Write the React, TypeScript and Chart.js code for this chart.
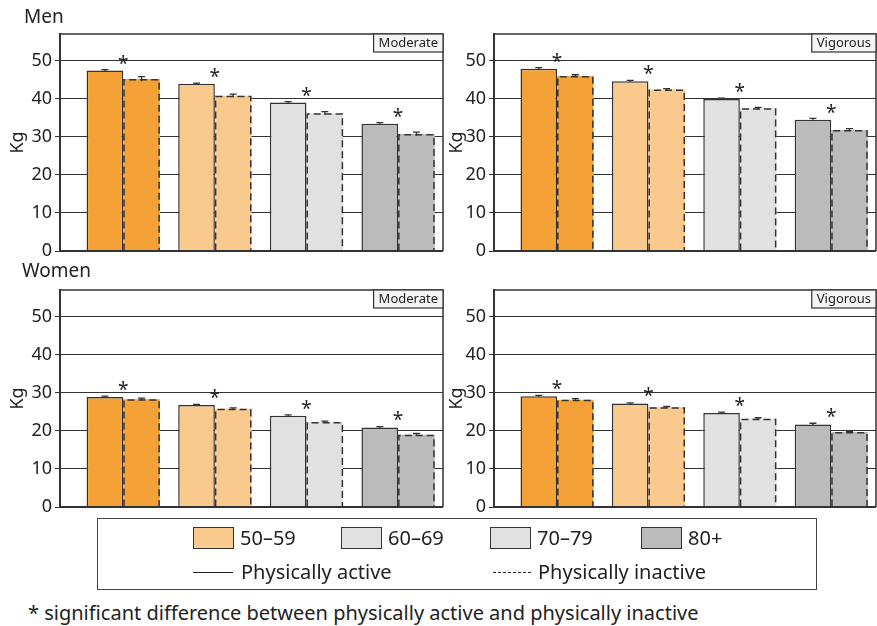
import React, { useEffect, useRef } from 'react';
import { Chart, registerables } from 'chart.js';

Chart.register(...registerables);

const FONT = "'Noto Sans', 'DejaVu Sans', sans-serif";

// Four age groups (bar pairs) per panel, left to right
const groupPositions = [1, 2, 3, 4];
const groupColors = ['#F4A137', '#F9C98D', '#E1E1E1', '#BBBBBB'];

// Y axis ticks
const yTicks = [0, 10, 20, 30, 40, 50];
const yMax = 57;

// Men – moderate
const menModActive = [47.4, 43.9, 39.0, 33.4];
const menModInactive = [45.2, 40.8, 36.2, 30.7];
const menModActiveErr = [0.25, 0.2, 0.25, 0.3];
const menModInactiveErr = [0.6, 0.4, 0.4, 0.5];
// Men – vigorous
const menVigActive = [47.9, 44.6, 39.9, 34.5];
const menVigInactive = [46.0, 42.4, 37.5, 31.8];
const menVigActiveErr = [0.25, 0.2, 0.25, 0.35];
const menVigInactiveErr = [0.3, 0.25, 0.25, 0.35];
// Women – moderate
const womenModActive = [28.9, 26.8, 24.0, 20.9];
const womenModInactive = [28.3, 25.8, 22.3, 19.0];
const womenModActiveErr = [0.2, 0.15, 0.2, 0.2];
const womenModInactiveErr = [0.3, 0.25, 0.25, 0.3];
// Women – vigorous
const womenVigActive = [29.1, 27.2, 24.7, 21.7];
const womenVigInactive = [28.2, 26.2, 23.2, 19.7];
const womenVigActiveErr = [0.2, 0.15, 0.2, 0.3];
const womenVigInactiveErr = [0.25, 0.2, 0.25, 0.2];

// Legend entries
const legendAges = ['50–59', '60–69', '70–79', '80+'];
const legendColors = ['#F9C98D', '#E1E1E1', '#E1E1E1', '#BBBBBB'];
const legendX = [193, 341, 490, 641];

type PanelProps = {
  left: number;
  top: number;
  width: number;
  height: number;
  yWidth: number;
  padTop: number;
  padBottom: number;
  padRight: number;
  active: number[];
  inactive: number[];
  errA: number[];
  errI: number[];
  tag: string;
};

function Panel(p: PanelProps) {
  const ref = useRef<HTMLCanvasElement>(null);
  useEffect(() => {
    if (!ref.current) return;
    const decor = {
      id: 'decor',
      afterDatasetsDraw(chart: any) {
        const { ctx, chartArea: ca } = chart;
        const ys = chart.scales.y;
        const mA = chart.getDatasetMeta(0);
        const mI = chart.getDatasetMeta(1);
        ctx.save();
        ctx.strokeStyle = '#333';
        // dashed outlines for inactive bars
        mI.data.forEach((bar: any) => {
          const b = bar.getProps(['x', 'y', 'base', 'width'], true);
          const l = b.x - b.width / 2;
          const r = b.x + b.width / 2;
          ctx.setLineDash([7, 4]);
          ctx.lineWidth = 1.5;
          ctx.beginPath();
          ctx.moveTo(l + 0.75, b.base);
          ctx.lineTo(l + 0.75, b.y + 0.75);
          ctx.lineTo(r - 0.75, b.y + 0.75);
          ctx.lineTo(r - 0.75, b.base);
          ctx.stroke();
        });
        ctx.setLineDash([]);
        // error bars
        const drawErr = (meta: any, vals: number[], errs: number[]) => {
          meta.data.forEach((bar: any, i: number) => {
            const x = bar.x;
            const yt = ys.getPixelForValue(vals[i] + errs[i]);
            const yb = ys.getPixelForValue(vals[i] - errs[i]);
            ctx.lineWidth = 1.3;
            ctx.beginPath();
            ctx.moveTo(x, yt);
            ctx.lineTo(x, yb);
            ctx.moveTo(x - 3.5, yt);
            ctx.lineTo(x + 3.5, yt);
            ctx.stroke();
          });
        };
        drawErr(mA, p.active, p.errA);
        drawErr(mI, p.inactive, p.errI);
        // asterisks
        ctx.fillStyle = '#222';
        ctx.font = `19px ${FONT}`;
        ctx.textAlign = 'center';
        ctx.textBaseline = 'alphabetic';
        mA.data.forEach((bar: any) => {
          const cx = bar.x + bar.width / 2;
          ctx.fillText('*', cx, bar.y - 1);
        });
        // frame
        ctx.lineWidth = 1.5;
        ctx.beginPath();
        ctx.moveTo(ca.left, ca.top);
        ctx.lineTo(ca.right, ca.top);
        ctx.lineTo(ca.right, ca.bottom);
        ctx.stroke();
        ctx.lineWidth = 2;
        ctx.beginPath();
        ctx.moveTo(ca.left, ca.top);
        ctx.lineTo(ca.left, ca.bottom);
        ctx.lineTo(ca.right, ca.bottom);
        ctx.stroke();
        // tag box
        ctx.font = `13px ${FONT}`;
        const tw = ctx.measureText(p.tag).width;
        const bw = tw + 10;
        const bh = 18;
        ctx.fillStyle = '#F4F4F4';
        ctx.fillRect(ca.right - bw, ca.top, bw, bh);
        ctx.lineWidth = 1.2;
        ctx.strokeRect(ca.right - bw, ca.top, bw, bh);
        ctx.fillStyle = '#222';
        ctx.textAlign = 'center';
        ctx.textBaseline = 'middle';
        ctx.fillText(p.tag, ca.right - bw / 2, ca.top + bh / 2 + 0.5);
        ctx.restore();
      },
    };
    const chart = new Chart(ref.current, {
      type: 'bar',
      data: {
        datasets: [
          {
            label: 'Physically active',
            data: p.active.map((v, i) => ({ x: groupPositions[i], y: v })),
            backgroundColor: groupColors,
            borderColor: '#333',
            borderWidth: 1.5,
            borderSkipped: 'bottom',
          },
          {
            label: 'Physically inactive',
            data: p.inactive.map((v, i) => ({ x: groupPositions[i], y: v })),
            backgroundColor: groupColors,
            borderWidth: 0,
          },
        ],
      } as any,
      options: {
        responsive: false,
        animation: false,
        layout: { padding: { left: 0, top: p.padTop, right: p.padRight, bottom: p.padBottom } },
        plugins: { legend: { display: false }, tooltip: { enabled: false } },
        datasets: { bar: { categoryPercentage: 0.8, barPercentage: 1.0 } } as any,
        scales: {
          x: {
            type: 'linear',
            min: 0.31,
            max: 4.49,
            display: false,
            offset: false,
            afterBuildTicks: (s: any) => {
              s.ticks = groupPositions.map((v) => ({ value: v }));
            },
          } as any,
          y: {
            min: 0,
            max: yMax,
            afterFit: (s: any) => {
              s.width = p.yWidth;
              s.paddingTop = 0;
              s.paddingBottom = 0;
            },
            afterBuildTicks: (s: any) => {
              s.ticks = yTicks.map((v) => ({ value: v }));
            },
            ticks: {
              stepSize: 10,
              includeBounds: false,
              font: { family: FONT, size: 18 },
              color: '#222',
              padding: 3,
            },
            grid: {
              color: '#333',
              lineWidth: 1,
              drawTicks: true,
              tickLength: 5,
              tickColor: '#333',
            },
            border: { display: true, color: '#333', width: 2 },
            title: {
              display: true,
              text: 'Kg',
              font: { family: FONT, size: 18 },
              color: '#222',
              padding: { top: 7, bottom: 0 },
            },
          } as any,
        },
      } as any,
      plugins: [decor],
    });
    return () => chart.destroy();
  }, []);
  return (
    <canvas
      ref={ref}
      width={p.width}
      height={p.height}
      style={{ position: 'absolute', left: p.left, top: p.top, width: p.width, height: p.height }}
    />
  );
}

const txt: React.CSSProperties = {
  position: 'absolute',
  fontFamily: FONT,
  color: '#222',
  whiteSpace: 'nowrap',
};

export default function App() {
  const H = 244;
  return (
    <div style={{ position: 'absolute', left: 0, top: 0, width: 877, height: 626, background: '#fff', overflow: 'hidden' }}>
      <Panel left={0} top={22} width={445} height={H} yWidth={60} padTop={12} padBottom={15} padRight={2}
        active={menModActive} inactive={menModInactive} errA={menModActiveErr} errI={menModInactiveErr} tag="Moderate" />
      <Panel left={439} top={22} width={438} height={H} yWidth={55} padTop={12} padBottom={15} padRight={1}
        active={menVigActive} inactive={menVigInactive} errA={menVigActiveErr} errI={menVigInactiveErr} tag="Vigorous" />
      <Panel left={0} top={278} width={445} height={H} yWidth={60} padTop={12} padBottom={15} padRight={2}
        active={womenModActive} inactive={womenModInactive} errA={womenModActiveErr} errI={womenModInactiveErr} tag="Moderate" />
      <Panel left={439} top={278} width={438} height={H} yWidth={55} padTop={12} padBottom={15} padRight={1}
        active={womenVigActive} inactive={womenVigInactive} errA={womenVigActiveErr} errI={womenVigInactiveErr} tag="Vigorous" />

      <div style={{ ...txt, left: 24, top: 3, fontSize: 19, lineHeight: '26px' }}>Men</div>
      <div style={{ ...txt, left: 22, top: 257, fontSize: 19, lineHeight: '26px' }}>Women</div>

      <div style={{ position: 'absolute', left: 97, top: 518, width: 720, height: 72, border: '1.5px solid #444', boxSizing: 'border-box' }} />
      {legendAges.map((a, i) => (
        <React.Fragment key={a}>
          <div style={{ position: 'absolute', left: legendX[i], top: 527, width: 41, height: 22, background: legendColors[i], border: '1px solid #333', boxSizing: 'border-box' }} />
          <div style={{ ...txt, left: legendX[i] + 47, top: 526, fontSize: 20, lineHeight: '24px' }}>{a}</div>
        </React.Fragment>
      ))}
      <div style={{ position: 'absolute', left: 193, top: 572, width: 40, height: 0, borderTop: '1px solid #222' }} />
      <div style={{ ...txt, left: 241, top: 560, fontSize: 20, lineHeight: '24px' }}>Physically active</div>
      <div style={{ position: 'absolute', left: 493, top: 572, width: 38, height: 0, borderTop: '1px dashed #222' }} />
      <div style={{ ...txt, left: 538, top: 560, fontSize: 20, lineHeight: '24px' }}>Physically inactive</div>

      <div style={{ ...txt, left: 28, top: 601, fontSize: 20, lineHeight: '24px' }}>
        * significant difference between physically active and physically inactive
      </div>
    </div>
  );
}
